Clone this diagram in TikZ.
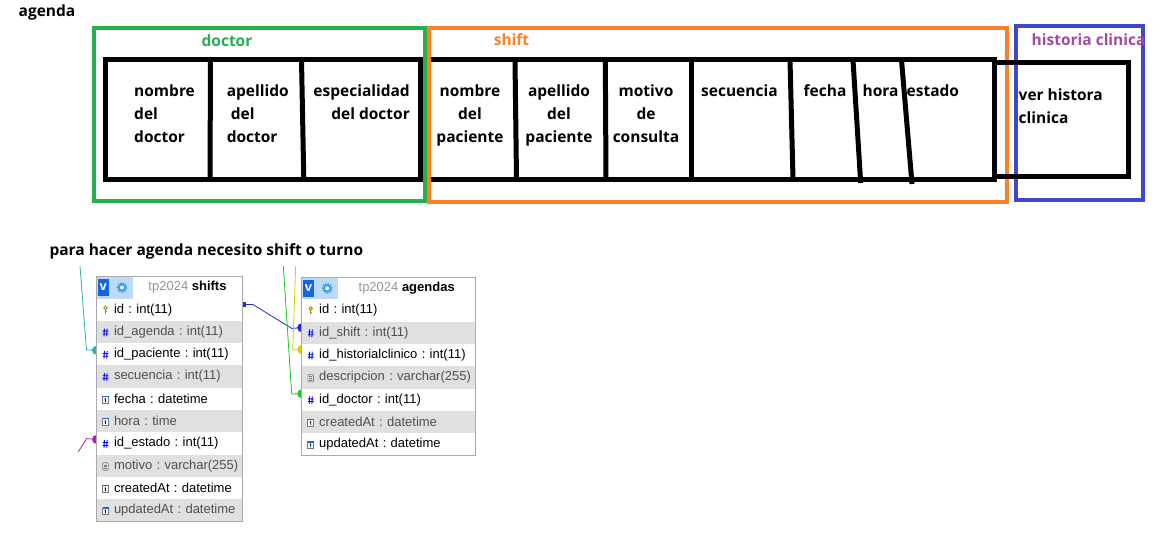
\documentclass[tikz,border=0pt]{standalone}
\usepackage{xcolor}
\usepackage{fontspec}
\setmainfont{Open Sans}
\newfontfamily\dbfont{Liberation Sans}
\usetikzlibrary{positioning,calc}

\definecolor{paintgreen}{RGB}{34,177,76}
\definecolor{paintorange}{RGB}{255,127,39}
\definecolor{paintblue}{RGB}{63,72,204}
\definecolor{paintpurple}{RGB}{163,73,164}
\definecolor{rowgray}{RGB}{224,224,224}
\definecolor{framegray}{RGB}{170,170,170}
\definecolor{tpgray}{RGB}{150,150,150}
\definecolor{fieldgray}{RGB}{80,80,80}
\definecolor{hashblue}{RGB}{0,0,255}
\definecolor{vblue}{RGB}{20,100,230}
\definecolor{bandblue}{RGB}{190,218,246}
\definecolor{gearblue}{RGB}{50,160,240}
\definecolor{keycol}{RGB}{160,135,40}
\definecolor{iconline}{RGB}{120,120,120}
\definecolor{linkteal}{RGB}{40,180,170}
\definecolor{linkpurple}{RGB}{180,30,180}
\definecolor{linkblue}{RGB}{40,40,210}
\definecolor{linkyellow}{RGB}{210,210,0}
\definecolor{linkgreen}{RGB}{30,200,30}

\pgfdeclarelayer{links}
\pgfsetlayers{links,main}

\tikzset{
	paint/.style={font=\fontsize{15.5}{23}\selectfont\bfseries, inner sep=0pt},
	zone/.style={line width=4pt},
	cellline/.style={line width=5pt},
	tabhead/.style={anchor=north west, minimum height=22pt, inner sep=0pt, outer sep=0pt, fill=white},
	vbox/.style={anchor=west, fill=vblue, text=white, minimum width=11pt, minimum height=17pt, inner sep=0pt, font=\dbfont\fontsize{13}{15}\selectfont\bfseries},
	tabtitle/.style={inner sep=0pt, font=\dbfont\fontsize{13}{15}\selectfont},
	field/.style={minimum width=#1, text width=#1, minimum height=22.3pt, inner sep=0pt, outer sep=0pt, align=left, font=\dbfont\fontsize{13}{15}\selectfont\frenchspacing, execute at begin node=\hspace*{17.5pt}},
	oddrow/.style={fill=white, text=black},
	evenrow/.style={fill=rowgray, text=fieldgray},
	tabframe/.style={draw=framegray, line width=0.8pt},
	link/.style={line width=0.8pt},
	keyic/.pic={\draw[keycol, line width=0.8pt, fill=yellow!70] (0,-2) circle (1.8pt); \draw[keycol, line width=1pt] (0,-0.2) -- (0,4) (0,2.2) -- (1.4,2.2);},
	hashic/.pic={\draw[hashblue, line width=0.9pt] (-1.1,-3.3) -- (-1.5,4.3) (1.6,-3.3) -- (1.2,4.3) (-2.8,-0.8) -- (2.8,-0.8) (-2.8,2) -- (2.8,2);},
	calic/.pic={\draw[iconline, line width=0.7pt, fill=white] (-3,-2.5) rectangle (3,4); \draw[vblue, line width=1.3pt] (-3,-2.4) -- (3,-2.4); \draw[black, line width=0.6pt] (0,-0.6) -- (0,3) (-0.8,0.3) -- (0,-0.6);},
	txtic/.pic={\draw[iconline, line width=0.6pt, rounded corners=1pt] (-2.8,-3) rectangle (2.8,4.5); \draw[iconline, line width=0.5pt] (-1.5,-1) -- (1.5,-1) (-1.5,0.8) -- (1.5,0.8) (-1.5,2.6) -- (1.5,2.6);},
	gearic/.pic={\draw[gearblue, line width=1.6pt, dash pattern=on 1.4pt off 1.2pt] (0,0) circle (4.6pt); \fill[gearblue] (0,0) circle (4pt); \fill[white] (0,0) circle (2pt);},
}

\begin{document}
\begin{tikzpicture}[x=1pt, y=-1pt]
	\useasboundingbox (0,0) rectangle (1174,553);
	% agenda sketch
	\node[paint, anchor=base west] (lblagenda) at (18.5,16.7) {agenda};
	\draw[zone, paintgreen] (93.5,28.5) rectangle (424.5,201.5);
	\draw[zone, paintorange] (429,28) rectangle (1007,202);
	\draw[zone, paintblue] (1016,26) rectangle (1142.5,200);
	\node[paint, paintgreen, anchor=base] (lbldoctor) at (227,46.2) {doctor};
	\node[paint, paintorange, anchor=base] (lblshift) at (511.5,46) {shift};
	\node[paint, paintpurple, anchor=base west] (lblhist) at (1031.5,45.2) {historia clinica};
	%
	\draw[cellline] (105.8,60) rectangle (420,179.5);
	\draw[cellline] (431,60) -- (994,60) -- (994,179.5) -- (431,179.5);
	\draw[cellline] (994,63) rectangle (1128,177);
	\draw[cellline] (210.5,60) -- (210,179.5);
	\draw[cellline] (301.5,60) -- (303.8,179.5);
	\draw[cellline] (515,60) -- (516.5,179.5);
	\draw[cellline] (605.3,60) -- (606,179.5);
	\draw[cellline] (691,60) -- (691,179.5);
	\draw[cellline] (790,60) -- (793,179.5);
	\draw[cellline] (853,60) -- (860.7,183);
	\draw[cellline] (901.5,60) -- (912,184);
	% base of a multi-line node is its last line
	\node[paint, align=left, anchor=base west] (cnomdoc) at (134,143) {nombre\\del\\doctor};
	\node[paint, align=left, anchor=base west] (capedoc) at (226.6,143) {apellido\\\hspace*{4pt}del\\doctor};
	\node[paint, align=right, anchor=base east] (cespdoc) at (410,120) {especialidad\\del doctor};
	\node[paint, align=center, anchor=base] (cnompac) at (470,143) {nombre\\del\\paciente};
	\node[paint, align=center, anchor=base] (capepac) at (559,143) {apellido\\del\\paciente};
	\node[paint, align=center, anchor=base] (cmotivo) at (646,143) {motivo\\de\\consulta};
	\node[paint, anchor=base west] (csecuencia) at (701,97) {secuencia};
	\node[paint, anchor=base west] (cfecha) at (803.5,97) {fecha};
	\node[paint, anchor=base west] (chora) at (862.5,97) {hora};
	\node[paint, anchor=base west] (cestado) at (906.5,97) {estado};
	\node[paint, align=left, anchor=base west] (cverhist) at (1018.5,123.8) {ver histora\\clinica};
	\node[paint, anchor=base west] (lblnota) at (49.3,255.5) {para hacer agenda necesito shift o turno};
	% shifts table
	\node[tabhead, minimum width=146pt] (sh) at (96.5,276.5) {};
	\node[tabhead, fill=bandblue, minimum width=36pt] (shband) at (sh.north west) {};
	\node[vbox] (shv) at ([xshift=1pt]shband.west) {v};
	\pic at ([xshift=25.5pt]shband.west) {gearic};
	\node[tabtitle] (shtitle) at ($(shband.east)!0.5!(sh.east)$) {\textcolor{tpgray}{tp2024} \textbf{shifts}};
	\node[field=146pt, oddrow, below=0pt of sh] (s1) {id : int(11)};
	\node[field=146pt, evenrow, below=0pt of s1] (s2) {id\_agenda : int(11)};
	\node[field=146pt, oddrow, below=0pt of s2] (s3) {id\_paciente : int(11)};
	\node[field=146pt, evenrow, below=0pt of s3] (s4) {secuencia : int(11)};
	\node[field=146pt, oddrow, below=0pt of s4] (s5) {fecha : datetime};
	\node[field=146pt, evenrow, below=0pt of s5] (s6) {hora : time};
	\node[field=146pt, oddrow, below=0pt of s6] (s7) {id\_estado : int(11)};
	\node[field=146pt, evenrow, below=0pt of s7] (s8) {motivo : varchar(255)};
	\node[field=146pt, oddrow, below=0pt of s8] (s9) {createdAt : datetime};
	\node[field=146pt, evenrow, below=0pt of s9] (s10) {updatedAt : datetime};
	\draw[tabframe] (sh.north west) rectangle (s10.south east);
	\pic at ([xshift=9pt]s1.west) {keyic};
	\pic at ([xshift=9pt]s2.west) {hashic};
	\pic at ([xshift=9pt]s3.west) {hashic};
	\pic at ([xshift=9pt]s4.west) {hashic};
	\pic at ([xshift=9pt]s5.west) {calic};
	\pic at ([xshift=9pt]s6.west) {calic};
	\pic at ([xshift=9pt]s7.west) {hashic};
	\pic at ([xshift=9pt]s8.west) {txtic};
	\pic at ([xshift=9pt]s9.west) {calic};
	\pic at ([xshift=9pt]s10.west) {calic};
	% agendas table
	\node[tabhead, minimum width=174pt] (ah) at (301.7,277.3) {};
	\node[tabhead, fill=bandblue, minimum width=36pt] (ahband) at (ah.north west) {};
	\node[vbox] (ahv) at ([xshift=1pt]ahband.west) {v};
	\pic at ([xshift=25.5pt]ahband.west) {gearic};
	\node[tabtitle] (ahtitle) at ($(ahband.east)!0.5!(ah.east)$) {\textcolor{tpgray}{tp2024} \textbf{agendas}};
	\node[field=174pt, oddrow, below=0pt of ah] (a1) {id : int(11)};
	\node[field=174pt, evenrow, below=0pt of a1] (a2) {id\_shift : int(11)};
	\node[field=174pt, oddrow, below=0pt of a2] (a3) {id\_historialclinico : int(11)};
	\node[field=174pt, evenrow, below=0pt of a3] (a4) {descripcion : varchar(255)};
	\node[field=174pt, oddrow, below=0pt of a4] (a5) {id\_doctor : int(11)};
	\node[field=174pt, evenrow, below=0pt of a5] (a6) {createdAt : datetime};
	\node[field=174pt, oddrow, below=0pt of a6] (a7) {updatedAt : datetime};
	\draw[tabframe] (ah.north west) rectangle (a7.south east);
	\pic at ([xshift=9pt]a1.west) {keyic};
	\pic at ([xshift=9pt]a2.west) {hashic};
	\pic at ([xshift=9pt]a3.west) {hashic};
	\pic at ([xshift=9pt]a4.west) {txtic};
	\pic at ([xshift=9pt]a5.west) {hashic};
	\pic at ([xshift=9pt]a6.west) {calic};
	\pic at ([xshift=9pt]a7.west) {calic};
	% links
	\begin{pgfonlayer}{links}
		\fill[white] (0,0) rectangle (1174,553);
		\coordinate (tealend) at (80,266);
		\coordinate (purpend) at (78.3,451.7);
		\coordinate (yellend) at (295.7,266);
		\coordinate (greenend) at (283.3,266);
		\draw[link, linkteal] (tealend) -- (86.5,350) -- ([yshift=4pt]s3.west);
		\fill[linkteal] ([yshift=4pt]s3.west) circle (4.5pt);
		\draw[link, linkpurple] (purpend) -- (86.7,438.6) -- ([yshift=4pt]s7.west);
		\fill[linkpurple] ([yshift=4pt]s7.west) circle (4.5pt);
		\draw[link, linkblue] ([yshift=5pt]s1.east) -- (252.7,304.4) -- (291.7,328.4) -- ([yshift=5pt]a2.west);
		\fill[linkblue] ([yshift=5pt]a2.west) circle (4.5pt);
		\fill[linkblue] ([yshift=5pt, xshift=1pt]s1.east) +(-2.2,-2.2) rectangle +(2.2,2.2);
		\draw[link, linkyellow] (yellend) -- (292.7,350) -- ([yshift=5.5pt]a3.west);
		\fill[linkyellow] ([yshift=5.5pt]a3.west) circle (4.5pt);
		\draw[link, linkgreen] (greenend) -- (291.7,394) -- ([yshift=6pt]a5.west);
		\fill[linkgreen] ([yshift=6pt]a5.west) circle (4.5pt);
	\end{pgfonlayer}
\end{tikzpicture}
\end{document}
